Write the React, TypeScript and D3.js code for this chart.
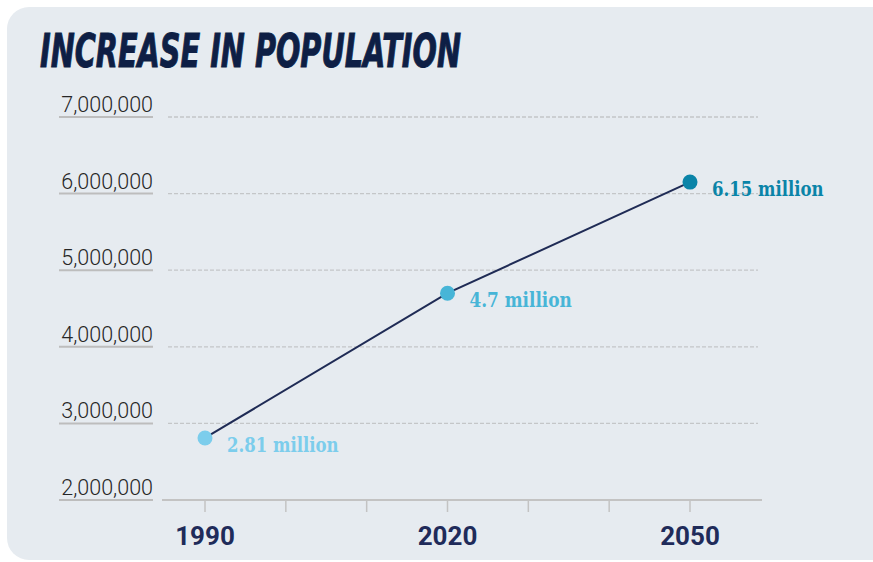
import React from "react";
import * as d3 from "d3";

const years = [1990, 2020, 2050];
const population = [2810000, 4700000, 6150000];
const valueLabels = ["2.81 million", "4.7 million", "6.15 million"];
const pointColors = ["#7ccdec", "#47b5d7", "#0a84a8"];
const yTicks = [2000000, 3000000, 4000000, 5000000, 6000000, 7000000];
const xTicks = [1990, 2000, 2010, 2020, 2030, 2040, 2050];
const xLabelYears = [1990, 2020, 2050];
const title = "INCREASE IN POPULATION";

const W = 873;
const H = 562;

export default function App() {
  const x = d3.scaleLinear().domain([1990, 2050]).range([205, 690]);
  const y = d3.scaleLinear().domain([2000000, 7000000]).range([500, 117]);
  const fmt = d3.format(",");
  const line = d3
    .line<number>()
    .x((_, i) => x(years[i]))
    .y((d) => y(d));

  return (
    <svg
      width={W}
      height={H}
      style={{ position: "absolute", left: 0, top: 0, display: "block" }}
    >
      <rect x={0} y={0} width={W} height={H} fill="#ffffff" />
      <rect x={7} y={7} width={W + 20 - 7} height={553} rx={22} fill="#e6ebf0" />
      <text
        x={40}
        y={67}
        fontFamily="'DejaVu Sans Condensed', 'DejaVu Sans', sans-serif"
        fontWeight="bold"
        fontStyle="italic"
        fontSize={47}
        fill="#0e1f45"
        stroke="#0e1f45"
        strokeWidth={1}
        textLength={421}
        lengthAdjust="spacingAndGlyphs"
      >
        {title}
      </text>

      {yTicks.map((t) => (
        <g key={t}>
          <line x1={59} x2={153} y1={y(t)} y2={y(t)} stroke="#bdbdbd" strokeWidth={2} />
          <text
            x={153}
            y={y(t) - 5}
            textAnchor="end"
            fontFamily="Roboto, sans-serif"
            fontWeight={300}
            fontSize={21.5}
            fill="#262626"
          >
            {fmt(t)}
          </text>
          {t !== 2000000 && (
            <line
              x1={168}
              x2={758}
              y1={y(t)}
              y2={y(t)}
              stroke="#c4c6c8"
              strokeWidth={1.3}
              strokeDasharray="4 2"
            />
          )}
        </g>
      ))}

      <line x1={162} x2={762} y1={y(2000000)} y2={y(2000000)} stroke="#c3c3c3" strokeWidth={2} />
      {xTicks.map((t) => (
        <line
          key={t}
          x1={x(t)}
          x2={x(t)}
          y1={y(2000000)}
          y2={y(2000000) + 12}
          stroke="#c3c3c3"
          strokeWidth={1.5}
        />
      ))}
      {xLabelYears.map((t) => (
        <text
          key={t}
          x={x(t)}
          y={545}
          textAnchor="middle"
          fontFamily="Roboto, sans-serif"
          fontWeight="bold"
          fontSize={26}
          fill="#1f2b5a"
        >
          {t}
        </text>
      ))}

      <path d={line(population) || ""} fill="none" stroke="#1f2b55" strokeWidth={2} />
      {population.map((v, i) => (
        <g key={i}>
          <circle cx={x(years[i])} cy={y(v)} r={7.5} fill={pointColors[i]} />
          <text
            x={x(years[i]) + 22}
            y={y(v) + 14}
            fontFamily="'DejaVu Serif Condensed', 'DejaVu Serif', serif"
            fontWeight="bold"
            fontSize={21}
            fill={pointColors[i]}
            textLength={valueLabels[i].length * 9.3}
            lengthAdjust="spacingAndGlyphs"
          >
            {valueLabels[i]}
          </text>
        </g>
      ))}
    </svg>
  );
}
